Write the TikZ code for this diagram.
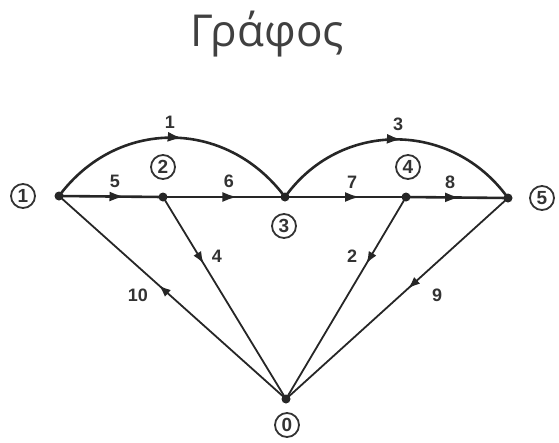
\documentclass[tikz,border=0pt]{standalone}
\usepackage{fontspec}
\setmainfont{Liberation Sans}
\newfontfamily\titlefont{Open Sans}
\usetikzlibrary{decorations.markings,arrows.meta}
\begin{document}
\begin{tikzpicture}[x=1pt,y=-1pt,
  vert/.style={circle,fill=black!85,inner sep=0pt,minimum size=9pt},
  vlabel/.style={circle,draw=black!80,line width=1.8pt,inner sep=0pt,minimum size=24pt,text=black!80,font=\bfseries\fontsize{19}{19}\selectfont},
  elabel/.style={text=black!80,font=\bfseries\fontsize{18}{18}\selectfont},
  edge/.style={draw=black!85,line width=2.6pt},
  thinedge/.style={draw=black!85,line width=1.8pt},
  midarrow/.style={postaction={decorate},decoration={markings,mark=at position #1 with {\arrow[black!85]{Latex[length=15pt,width=10pt]}}}},
  smallarrow/.style={postaction={decorate},decoration={markings,mark=at position #1 with {\arrow[black!85]{Latex[length=12pt,width=9pt]}}}}
]
\useasboundingbox (0,0) rectangle (559,442);
\node[font=\titlefont\fontsize{44}{44}\selectfont,text=black!75,anchor=base] (title) at (267,46) {Γράφος};
% vertices
\node[vert] (n1) at (59,196) {};
\node[vert] (n2) at (163,197) {};
\node[vert] (n3) at (285,197) {};
\node[vert] (n4) at (406,197) {};
\node[vert] (n5) at (508,198) {};
\node[vert] (n0) at (286,399) {};
% vertex labels
\node[vlabel] (l1) at (23,196) {1};
\node[vlabel] (l2) at (163,167) {2};
\node[vlabel] (l3) at (284,226) {3};
\node[vlabel] (l4) at (408,167) {4};
\node[vlabel] (l5) at (542,198) {5};
\node[vlabel] (l0) at (287,425) {0};
% edges
\draw[edge,midarrow=0.54] (n1.center) .. controls (117,118) and (226,118) .. (n3.center);
\draw[edge,midarrow=0.52] (n3.center) .. controls (340,120) and (452,120) .. (n5.center);
\draw[edge,midarrow=0.63] (n1.center) -- (n2.center);
\draw[edge,midarrow=0.61] (n2.center) -- (n3.center);
\draw[edge,midarrow=0.62] (n3.center) -- (n4.center);
\draw[edge,midarrow=0.53] (n4.center) -- (n5.center);
\draw[thinedge,smallarrow=0.33] (n2.center) -- (n0.center);
\draw[thinedge,smallarrow=0.33] (n4.center) -- (n0.center);
\draw[thinedge,smallarrow=0.45] (n5.center) -- (n0.center);
\draw[thinedge,smallarrow=0.56] (n0.center) -- (n1.center);
% edge labels
\node[elabel] (e1) at (170,122) {1};
\node[elabel] (e3) at (398,124) {3};
\node[elabel] (e5) at (115,181) {5};
\node[elabel] (e6) at (229,181) {6};
\node[elabel] (e7) at (352,182) {7};
\node[elabel] (e8) at (450,182) {8};
\node[elabel] (e4) at (217,256) {4};
\node[elabel] (e2) at (352,256) {2};
\node[elabel] (e9) at (437,295) {9};
\node[elabel] (e10) at (138,295) {10};
\end{tikzpicture}
\end{document}
